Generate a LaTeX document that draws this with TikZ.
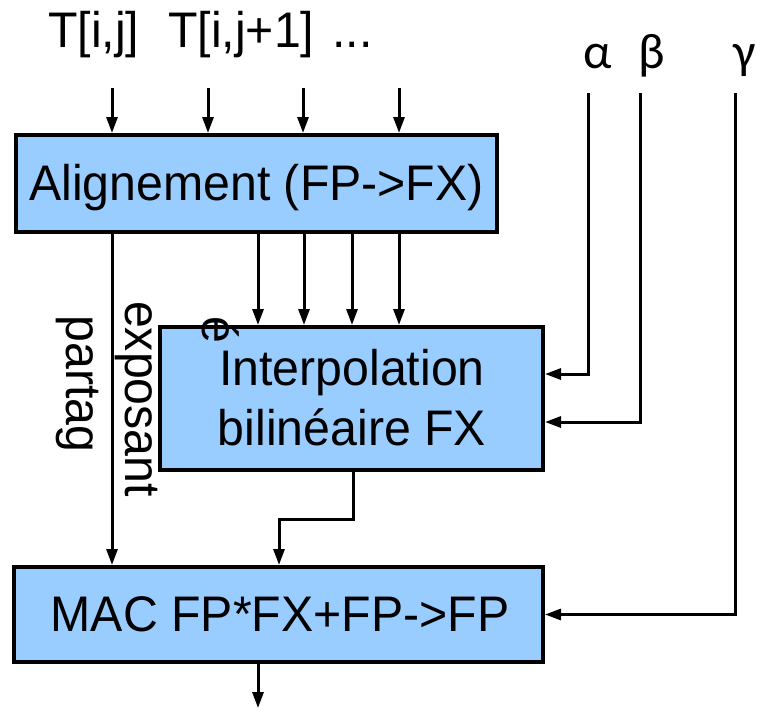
\documentclass[tikz,border=0pt]{standalone}
\usepackage{fontspec}
\setmainfont{Liberation Sans}[FakeStretch=0.965]
\newfontfamily\greekf{Carlito}
\usetikzlibrary{arrows.meta}
\definecolor{boxblue}{HTML}{99CCFF}
\begin{document}
\begin{tikzpicture}[x=1pt,y=-1pt,
  box/.style={draw=black,fill=boxblue,line width=4pt,rectangle,inner sep=0pt},
  lbl/.style={inner sep=0pt,font=\fontsize{50}{60}\selectfont},
  glbl/.style={inner sep=0pt,font=\fontsize{50}{60}\selectfont\greekf},
  conn/.style={draw=black,line width=3pt},
  arr/.style={conn,-{Triangle[length=16pt,width=11pt]}}]
\useasboundingbox (0,0) rectangle (757,709);

% boxes
\node[box,minimum width=481pt,minimum height=97pt] (align) at (256.5,183.5) {};
\node[box,minimum width=383pt,minimum height=143pt] (interp) at (351.5,398.5) {};
\node[box,minimum width=529pt,minimum height=95pt] (mac) at (278.5,614.5) {};

% box texts
\node[lbl,anchor=base] (talign) at (256.5,200) {Alignement (FP->FX)};
\node[lbl,anchor=base] (tinterp1) at (352,385) {Interpolation};
\node[lbl,anchor=base] (tinterp2) at (352,445) {bilinéaire FX};
\node[lbl,anchor=base] (tmac) at (280,631) {MAC FP*FX+FP->FP};

% top labels
\node[lbl,anchor=base west] (tij) at (48,48) {T[i,j]};
\node[lbl,anchor=base west] (tij1) at (168,48) {T[i,j+1]};
\node[lbl,anchor=base west] (tdots) at (332,48) {...};
\node[glbl,anchor=base] (alpha) at (598,68) {α};
\node[glbl,anchor=base] (beta) at (652,68) {β};
\node[glbl,anchor=base] (gamma) at (745,68) {γ};

% rotated labels
\node[lbl,anchor=base,rotate=-90] (expo) at (125,399) {exposant};
\node[lbl,anchor=base,rotate=-90] (part) at (66,384) {partag};
\node[lbl,anchor=base,rotate=-90] (eacc) at (202,330) {é};

% free ends
\coordinate (in1) at (112,88);
\coordinate (in2) at (208,88);
\coordinate (in3) at (303,88);
\coordinate (in4) at (399,88);
\coordinate (a1) at (588,93);
\coordinate (b1) at (640,93);
\coordinate (g1) at (735,93);
\coordinate (d1) at (258,0);
\coordinate (d2) at (304,0);
\coordinate (d3) at (352,0);
\coordinate (d4) at (399,0);
\coordinate (ex) at (112,0);
\coordinate (ib) at (353,519);
\coordinate (mb) at (279,519);
\coordinate (out) at (258,708);

% inputs to alignement
\draw[arr] (in1) -- (in1 |- align.north);
\draw[arr] (in2) -- (in2 |- align.north);
\draw[arr] (in3) -- (in3 |- align.north);
\draw[arr] (in4) -- (in4 |- align.north);

% alignement to interpolation
\draw[arr] (d1 |- align.south) -- (d1 |- interp.north);
\draw[arr] (d2 |- align.south) -- (d2 |- interp.north);
\draw[arr] (d3 |- align.south) -- (d3 |- interp.north);
\draw[arr] (d4 |- align.south) -- (d4 |- interp.north);

% shared exponent
\draw[arr] (ex |- align.south) -- (ex |- mac.north);

% interpolation to MAC
\draw[arr] (ib |- interp.south) -- (ib) -- (mb) -- (mb |- mac.north);

% coefficients
\draw[arr] (a1) -- (a1 |- 0,374) -- (interp.east |- 0,374);
\draw[arr] (b1) -- (b1 |- 0,422) -- (interp.east |- 0,422);
\draw[arr] (g1) -- (g1 |- mac.east) -- (mac.east);

% output
\draw[arr] (out |- mac.south) -- (out);
\end{tikzpicture}
\end{document}
